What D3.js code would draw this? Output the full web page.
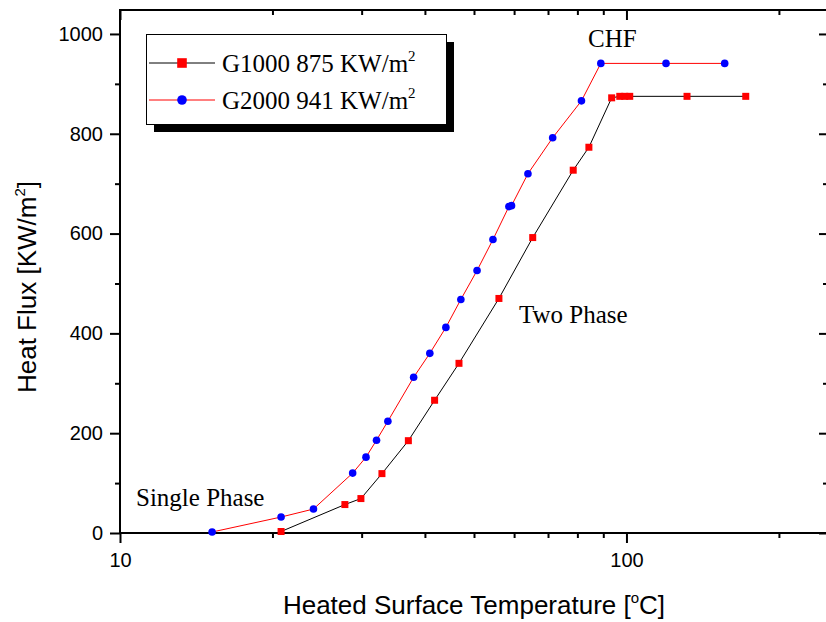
<!DOCTYPE html>
<html>
<head>
<meta charset="utf-8">
<script src="https://cdn.jsdelivr.net/npm/d3@7"></script>
<style>
  body { margin: 0; background: #fff; }
  svg { display: block; }
  .serif { font-family: "Times New Roman", "Liberation Serif", serif; }
</style>
</head>
<body>
<div id="container"></div>
<script>
// G1000 (red squares, black line)
var g1000Temp = [20.8, 27.8, 29.9, 32.9, 37.1, 41.8, 46.7, 56.0, 65.3, 78.5, 84.3, 93.5, 97.0, 99.2, 101.5, 131.7, 172];
var g1000Flux = [3, 57, 69, 119, 185, 266, 340, 470, 592, 727, 773, 872, 875, 875, 875, 875, 875];

// G2000 (blue circles, red line)
var g2000Temp = [15.2, 20.8, 24.1, 28.8, 30.6, 32.1, 33.8, 38.0, 40.9, 44.0, 47.1, 50.7, 54.5, 58.6, 59.3, 63.9, 71.5, 81.5, 89.0, 119.7, 156.3];
var g2000Flux = [2, 32, 48, 120, 152, 186, 224, 312, 360, 412, 468, 526, 588, 654, 656, 720, 792, 866, 941, 941, 941];

var yMajor = [0, 200, 400, 600, 800, 1000];
var yMinor = [100, 300, 500, 700, 900];
var xMajor = [10, 100];
var xMinor = [20, 30, 40, 50, 60, 70, 80, 90, 200];

drawChart();

function drawChart() {
    var width = 826, height = 622;
    var pLeft = 120, pRight = 828, pTop = 10, pBottom = 533;

    var svg = d3.select("#container").append("svg")
        .attr("width", width)
        .attr("height", height);

    var x = d3.scaleLog().domain([10, 250]).range([pLeft, pRight]);
    var y = d3.scaleLinear().domain([0, 1048]).range([pBottom, pTop]);

    // axes: major + minor ticks on all four sides
    function drawAxis(axisFn, scale, vals, size, pos, labels) {
        var a = axisFn(scale).tickValues(vals).tickSize(size).tickSizeOuter(0);
        if (labels) a.tickFormat(d3.format("d")).tickPadding(7);
        else a.tickFormat("");
        var g = svg.append("g").attr("transform", pos).call(a);
        g.select(".domain").remove();
        g.selectAll(".tick line").attr("stroke", "#000").attr("stroke-width", 2);
        g.selectAll(".tick text")
            .style("font-family", "Arial, 'Liberation Sans', sans-serif")
            .style("font-size", "20px")
            .attr("fill", "#000");
        return g;
    }

    drawAxis(d3.axisLeft, y, yMajor, 10, "translate(" + pLeft + ",0)", true);
    drawAxis(d3.axisLeft, y, yMinor, 5, "translate(" + pLeft + ",0)", false);
    drawAxis(d3.axisRight, y, yMajor, -9, "translate(" + pRight + ",0)", false);
    drawAxis(d3.axisRight, y, yMinor, -5, "translate(" + pRight + ",0)", false);
    var bx = drawAxis(d3.axisBottom, x, xMajor, 10, "translate(0," + pBottom + ")", true);
    bx.selectAll(".tick text").attr("y", 20).attr("dy", "0.71em");
    drawAxis(d3.axisBottom, x, xMinor, 5, "translate(0," + pBottom + ")", false);
    drawAxis(d3.axisTop, x, xMajor, -10, "translate(0," + pTop + ")", false);
    drawAxis(d3.axisTop, x, xMinor, -5, "translate(0," + pTop + ")", false);

    // frame
    svg.append("rect")
        .attr("x", pLeft).attr("y", pTop)
        .attr("width", pRight - pLeft).attr("height", pBottom - pTop)
        .attr("fill", "none").attr("stroke", "#000").attr("stroke-width", 2);

    // lines
    var line = d3.line().x(function(d) { return x(d[0]); }).y(function(d) { return y(d[1]); });
    var g1000 = d3.zip(g1000Temp, g1000Flux);
    var g2000 = d3.zip(g2000Temp, g2000Flux);

    svg.append("path").datum(g1000).attr("d", line)
        .attr("fill", "none").attr("stroke", "#000").attr("stroke-width", 1);
    svg.append("path").datum(g2000).attr("d", line)
        .attr("fill", "none").attr("stroke", "#ff0000").attr("stroke-width", 1);

    svg.selectAll(".sq").data(g1000).enter().append("rect")
        .attr("x", function(d) { return x(d[0]) - 3.5; })
        .attr("y", function(d) { return y(d[1]) - 3.5; })
        .attr("width", 7).attr("height", 7)
        .attr("fill", "#ff0000");

    svg.selectAll(".dot").data(g2000).enter().append("circle")
        .attr("cx", function(d) { return x(d[0]); })
        .attr("cy", function(d) { return y(d[1]); })
        .attr("r", 3.8)
        .attr("fill", "#0000ff");

    // annotations
    svg.append("text").attr("class", "serif").attr("x", 588).attr("y", 47)
        .style("font-size", "25px").text("CHF");
    svg.append("text").attr("class", "serif").attr("x", 519).attr("y", 323)
        .style("font-size", "25px").text("Two Phase");
    svg.append("text").attr("class", "serif").attr("x", 136).attr("y", 506)
        .style("font-size", "25px").text("Single Phase");

    // legend
    svg.append("rect").attr("x", 154).attr("y", 42).attr("width", 300).attr("height", 90).attr("fill", "#000");
    svg.append("rect").attr("x", 146.5).attr("y", 34.5).attr("width", 300).attr("height", 90)
        .attr("fill", "#fff").attr("stroke", "#000").attr("stroke-width", 1);

    var legendItems = [
        {name: "G1000 875 KW/m", line: "#000", shape: "square", y: 63},
        {name: "G2000 941 KW/m", line: "#ff0000", shape: "circle", y: 100}
    ];
    legendItems.forEach(function(item) {
        svg.append("line").attr("x1", 149).attr("x2", 215).attr("y1", item.y).attr("y2", item.y)
            .attr("stroke", item.line).attr("stroke-width", 1);
        if (item.shape == "square") {
            svg.append("rect").attr("x", 182 - 4.8).attr("y", item.y - 4.8)
                .attr("width", 9.6).attr("height", 9.6).attr("fill", "#ff0000");
        } else {
            svg.append("circle").attr("cx", 182).attr("cy", item.y).attr("r", 4.8).attr("fill", "#0000ff");
        }
        var t = svg.append("text").attr("class", "serif").attr("x", 222).attr("y", item.y + 9)
            .style("font-size", "25px").text(item.name);
        t.append("tspan").attr("dy", -11).style("font-size", "15px").text("2");
    });

    // axis titles
    var xt = svg.append("text").attr("x", 474).attr("y", 614)
        .attr("text-anchor", "middle")
        .style("font-family", "Arial, 'Liberation Sans', sans-serif").style("font-size", "26px")
        .text("Heated Surface Temperature [");
    xt.append("tspan").attr("dy", -11).style("font-size", "15px").text("o");
    xt.append("tspan").attr("dy", 11).text("C]");

    var yt = svg.append("text").attr("transform", "translate(36,287) rotate(-90)")
        .attr("text-anchor", "middle")
        .style("font-family", "Arial, 'Liberation Sans', sans-serif").style("font-size", "26px")
        .text("Heat Flux [KW/m");
    yt.append("tspan").attr("dy", -11).style("font-size", "15px").text("2");
    yt.append("tspan").attr("dy", 11).text("]");
}
</script>
</body>
</html>
